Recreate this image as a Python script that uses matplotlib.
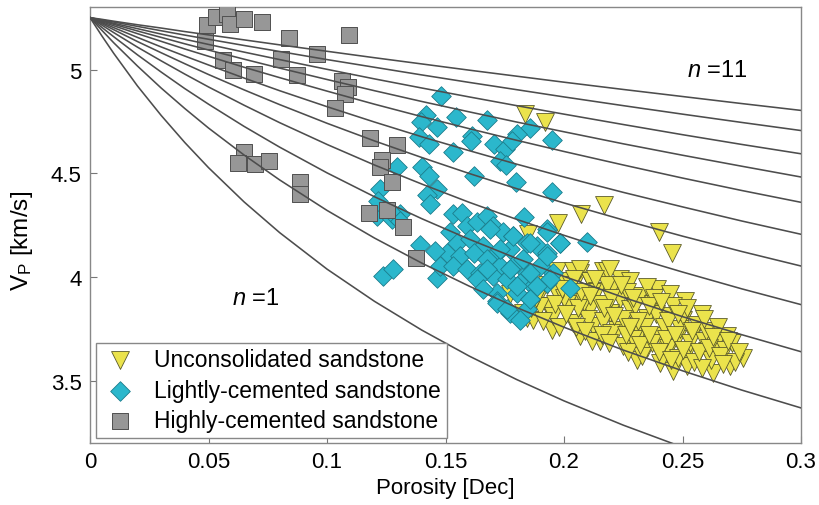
import matplotlib
matplotlib.use("Agg")
import matplotlib.pyplot as plt

plt.rcParams['font.family'] = ['Liberation Sans', 'DejaVu Sans']
plt.rcParams['mathtext.fontset'] = 'custom'
plt.rcParams['mathtext.rm'] = 'Liberation Sans'
plt.rcParams['mathtext.it'] = 'Liberation Sans:italic'

# model curves n = 1 .. 11, Vp read at these porosities
phi_grid = [0, 0.005, 0.01, 0.02, 0.03, 0.04, 0.05, 0.065, 0.08, 0.1, 0.12,
            0.14, 0.16, 0.18, 0.2, 0.225, 0.25, 0.275, 0.3]
vp_n1 = [5.250, 5.162, 5.078, 4.921, 4.779, 4.648, 4.527, 4.362, 4.214, 4.038, 3.883,
         3.744, 3.619, 3.506, 3.403, 3.286, 3.180]
vp_n2 = [5.250, 5.189, 5.129, 5.017, 4.911, 4.812, 4.718, 4.588, 4.468, 4.321, 4.188,
         4.067, 3.956, 3.853, 3.758, 3.648, 3.548, 3.455, 3.369]
vp_n3 = [5.250, 5.203, 5.158, 5.071, 4.988, 4.908, 4.833, 4.726, 4.626, 4.502, 4.387,
         4.281, 4.182, 4.090, 4.003, 3.902, 3.809, 3.722, 3.640]
vp_n4 = [5.250, 5.214, 5.178, 5.108, 5.042, 4.978, 4.916, 4.828, 4.744, 4.639, 4.540,
         4.448, 4.360, 4.278, 4.201, 4.109, 4.024, 3.943, 3.867]
vp_n5 = [5.250, 5.221, 5.192, 5.135, 5.081, 5.028, 4.976, 4.902, 4.831, 4.741, 4.656,
         4.576, 4.499, 4.426, 4.357, 4.275, 4.197, 4.123, 4.053]
vp_n6 = [5.250, 5.226, 5.202, 5.155, 5.109, 5.065, 5.022, 4.959, 4.898, 4.821, 4.747,
         4.676, 4.609, 4.544, 4.482, 4.408, 4.338, 4.270, 4.206]
vp_n7 = [5.250, 5.230, 5.211, 5.173, 5.136, 5.099, 5.064, 5.011, 4.961, 4.896, 4.833,
         4.773, 4.715, 4.659, 4.605, 4.540, 4.477, 4.417, 4.360]
vp_n8 = [5.250, 5.234, 5.218, 5.186, 5.155, 5.124, 5.094, 5.050, 5.007, 4.952, 4.898,
         4.846, 4.796, 4.747, 4.700, 4.642, 4.587, 4.534, 4.482]
vp_n9 = [5.250, 5.237, 5.223, 5.197, 5.171, 5.146, 5.121, 5.084, 5.048, 5.001, 4.955,
         4.911, 4.868, 4.826, 4.785, 4.735, 4.686, 4.639, 4.594]
vp_n10 = [5.250, 5.239, 5.229, 5.208, 5.187, 5.166, 5.146, 5.116, 5.087, 5.048, 5.011,
          4.974, 4.938, 4.903, 4.868, 4.826, 4.785, 4.745, 4.706]
vp_n11 = [5.250, 5.242, 5.233, 5.216, 5.200, 5.183, 5.167, 5.143, 5.119, 5.088, 5.057,
          5.027, 4.997, 4.968, 4.939, 4.904, 4.870, 4.836, 4.803]
curves = [vp_n1, vp_n2, vp_n3, vp_n4, vp_n5, vp_n6, vp_n7, vp_n8, vp_n9, vp_n10, vp_n11]

# highly cemented (squares)
hc_phi = [0.0492, 0.0532, 0.0578, 0.0592, 0.0651, 0.0726, 0.0485, 0.0560, 0.0603,
          0.0693, 0.0841, 0.0806, 0.1094, 0.0956, 0.0875, 0.1062, 0.1090, 0.1076,
          0.1034, 0.1181, 0.0651, 0.0623, 0.0698, 0.0757, 0.0886, 0.0886, 0.1294,
          0.1231, 0.1224, 0.1273, 0.1175, 0.1255, 0.1319, 0.1376]
hc_vp = [5.214, 5.255, 5.266, 5.219, 5.243, 5.227, 5.137, 5.045, 4.997,
         4.977, 5.150, 5.053, 5.167, 5.077, 4.976, 4.943, 4.916, 4.884,
         4.815, 4.670, 4.602, 4.549, 4.545, 4.558, 4.457, 4.400, 4.634,
         4.566, 4.529, 4.460, 4.307, 4.323, 4.239, 4.094]

# lightly cemented (diamonds)
lc_phi = [0.1481, 0.1418, 0.1395, 0.1544, 0.1466, 0.1674, 0.1857, 0.1800, 0.1613,
          0.1606, 0.1386, 0.1432, 0.1530, 0.1706, 0.1751, 0.1779, 0.1948, 0.1730,
          0.1755, 0.1400, 0.1432, 0.1294, 0.1618, 0.1798, 0.1948, 0.1463, 0.1421,
          0.1435, 0.1224, 0.1210, 0.1273, 0.1308, 0.1831, 0.2096, 0.1927, 0.1393,
          0.1238, 0.1280, 0.1463, 0.1533, 0.1568, 0.1519, 0.1589, 0.1632, 0.1674,
          0.1702, 0.1744, 0.1786, 0.1547, 0.1604, 0.1660, 0.1716, 0.1772, 0.1843,
          0.1885, 0.1927, 0.1983, 0.1505, 0.1561, 0.1618, 0.1674, 0.1730, 0.1786,
          0.1843, 0.1899, 0.1955, 0.1477, 0.1533, 0.1589, 0.1646, 0.1702, 0.1758,
          0.1815, 0.1871, 0.1927, 0.2025, 0.1632, 0.1716, 0.1800, 0.1857, 0.1716,
          0.1772, 0.1843, 0.1688, 0.1786, 0.1730, 0.1857, 0.1927, 0.1983, 0.1828,
          0.1927, 0.1674, 0.1772, 0.1857, 0.1941, 0.1716, 0.1758, 0.1814, 0.1857,
          0.1660, 0.1885, 0.1800, 0.1216, 0.1280, 0.1308, 0.1455]
lc_vp = [4.873, 4.782, 4.747, 4.771, 4.723, 4.755, 4.718, 4.690, 4.679,
         4.658, 4.674, 4.642, 4.602, 4.642, 4.618, 4.658, 4.661, 4.561,
         4.540, 4.529, 4.489, 4.529, 4.486, 4.460, 4.411, 4.424, 4.395,
         4.352, 4.424, 4.292, 4.279, 4.303, 4.287, 4.171, 4.231, 4.155,
         4.005, 4.041, 3.997, 4.303, 4.311, 4.215, 4.247, 4.263, 4.295,
         4.247, 4.215, 4.199, 4.166, 4.182, 4.150, 4.118, 4.134, 4.166,
         4.150, 4.118, 4.166, 4.118, 4.102, 4.118, 4.086, 4.053, 4.053,
         4.021, 4.053, 4.021, 4.053, 4.053, 4.037, 4.021, 4.005, 3.989,
         3.973, 3.957, 3.973, 3.949, 3.989, 3.924, 3.924, 3.892, 3.884,
         3.828, 3.844, 4.231, 4.198, 4.134, 4.166, 4.215, 4.166, 4.086,
         4.102, 4.037, 4.037, 4.021, 3.989, 3.876, 3.844, 3.795, 3.892,
         3.940, 3.957, 3.957, 4.368, 4.303, 4.271, 4.126]

# unconsolidated (triangles)
uc_phi = [0.1836, 0.1920, 0.2170, 0.2070, 0.1973, 0.1849, 0.2402, 0.2454,
          0.2068, 0.2166, 0.2236, 0.1997, 0.1842, 0.1969, 0.1899, 0.2039, 0.2109,
          0.2180, 0.2222, 0.1772,
          0.2067, 0.2194, 0.2278, 0.2110, 0.1990, 0.2208, 0.2391, 0.2447, 0.2510,
          0.2581, 0.1969, 0.2053, 0.2138, 0.2236, 0.2321, 0.2377, 0.1927, 0.2012,
          0.2110, 0.2194, 0.2278, 0.2349, 0.2433, 0.2503, 0.1871, 0.1948, 0.2039,
          0.2124, 0.2222, 0.2321, 0.2405, 0.2475, 0.2546, 0.2616, 0.2687, 0.2067,
          0.2152, 0.2250, 0.2349, 0.2433, 0.2518, 0.2602, 0.2658, 0.2756, 0.2461,
          0.2630, 0.2306, 0.2405, 0.2518, 0.2700, 0.1885, 0.1828,
          0.1900, 0.1955, 0.2000, 0.2030, 0.2085, 0.2100, 0.2150, 0.2165, 0.2180,
          0.2200, 0.2250, 0.2265, 0.2290, 0.2300, 0.2340, 0.2350, 0.2370, 0.2390,
          0.2420, 0.2440, 0.2460, 0.2480, 0.2490, 0.2530, 0.2550, 0.2560, 0.2590,
          0.2620, 0.2640, 0.2680, 0.2710, 0.2720, 0.2580, 0.2330, 0.2270, 0.2120,
          0.2050, 0.1980, 0.1860, 0.2120, 0.2200, 0.2060, 0.2380, 0.2430, 0.2500,
          0.2600, 0.2650,
          0.1880, 0.1930, 0.1960, 0.2010, 0.2040, 0.2070, 0.2090, 0.2130, 0.2160,
          0.2170, 0.2210, 0.2240, 0.2260, 0.2290, 0.2310, 0.2320, 0.2360, 0.2360,
          0.2400, 0.2410, 0.2440, 0.2450, 0.2470, 0.2500, 0.2520, 0.2540, 0.2570,
          0.2590, 0.2610, 0.2630, 0.2660, 0.2690, 0.2740, 0.2110, 0.1990, 0.1910,
          0.2190, 0.2280, 0.2480, 0.2670]
uc_vp = [4.787, 4.747, 4.348, 4.303, 4.258, 4.205, 4.215, 4.118,
         4.021, 4.029, 3.989, 3.908, 3.804, 4.029, 3.916, 4.029, 3.981,
         4.029, 3.949, 3.916,
         4.037, 4.037, 3.981, 3.981, 3.981, 3.957, 3.940, 3.916, 3.884,
         3.820, 3.916, 3.916, 3.932, 3.892, 3.908, 3.868, 3.860, 3.868,
         3.844, 3.828, 3.844, 3.803, 3.811, 3.795, 3.795, 3.747, 3.779,
         3.763, 3.747, 3.731, 3.715, 3.699, 3.723, 3.723, 3.715, 3.715,
         3.691, 3.666, 3.658, 3.634, 3.634, 3.642, 3.618, 3.610, 3.545,
         3.537, 3.602, 3.586, 3.570, 3.570, 3.924, 3.828,
         3.860, 3.810, 3.900, 3.960, 3.880, 3.800, 3.870, 3.790, 3.960,
         3.730, 3.800, 3.930, 3.700, 3.860, 3.760, 3.950, 3.680, 3.820,
         3.760, 3.660, 3.860, 3.610, 3.750, 3.680, 3.590, 3.770, 3.690,
         3.600, 3.680, 3.650, 3.680, 3.590, 3.560, 3.620, 3.640, 3.690,
         3.760, 3.760, 3.850, 3.930, 3.900, 3.850, 3.900, 3.700, 3.810,
         3.740, 3.760,
         3.900, 3.960, 3.870, 3.820, 3.990, 3.930, 3.740, 3.990, 3.720,
         3.850, 3.810, 3.960, 3.720, 3.900, 3.790, 3.670, 3.860, 3.720,
         3.640, 3.880, 3.790, 3.600, 3.720, 3.650, 3.850, 3.740, 3.640,
         3.800, 3.660, 3.710, 3.620, 3.690, 3.640, 3.910, 3.940, 3.790,
         3.680, 3.760, 3.820, 3.580]

x_ticks = [0, 0.05, 0.1, 0.15, 0.2, 0.25, 0.3]
x_labels = ['0', '0.05', '0.1', '0.15', '0.2', '0.25', '0.3']
y_ticks = [3.5, 4, 4.5, 5]
y_labels = ['3.5', '4', '4.5', '5']

fig = plt.figure(figsize=(8.2, 5.06), dpi=100)
ax = fig.add_axes([0.1098, 0.1225, 0.8671, 0.8611])

ax.scatter(uc_phi, uc_vp, marker='v', s=165, c='#ebe34c', edgecolors='#5a5a2a',
           linewidths=0.6, zorder=2, label='Unconsolidated sandstone')
ax.scatter(lc_phi, lc_vp, marker='D', s=100, c='#2bb7cc', edgecolors='#1c7d8c',
           linewidths=0.6, zorder=3, label='Lightly-cemented sandstone')
ax.scatter(hc_phi, hc_vp, marker='s', s=125, c='#979797', edgecolors='#505050',
           linewidths=0.7, zorder=4, label='Highly-cemented sandstone')

# curves drawn over the points
for cv in curves:
    ax.plot(phi_grid[:len(cv)], cv, color='#4d4d4d', lw=1.15, zorder=5)

ax.text(0.252, 5.0, r'$n$ =11', fontsize=17, va='center', zorder=6)
ax.text(0.0598, 3.90, r'$n$ =1', fontsize=17, va='center', zorder=6)

ax.set_xlim(0, 0.3)
ax.set_ylim(3.2, 5.3)
ax.set_xticks(x_ticks)
ax.set_xticklabels(x_labels)
ax.set_yticks(y_ticks)
ax.set_yticklabels(y_labels)
ax.tick_params(direction='in', length=5, width=0.8, color='#777777', labelsize=16, pad=6)
for sp in ax.spines.values():
    sp.set_color('#888888')
    sp.set_linewidth(1.0)
ax.set_xlabel('Porosity [Dec]', fontsize=16, labelpad=3)
ax.set_ylabel(r'V$_\mathrm{P}$ [km/s]', fontsize=17.5)
ax.yaxis.set_label_coords(-0.077, 0.465)

leg = ax.legend(loc='lower left', bbox_to_anchor=(0.008, 0.012), borderaxespad=0,
                fontsize=16.5, handlelength=1.6, handletextpad=0.7, borderpad=0.25,
                labelspacing=0.32, fancybox=False, framealpha=1)
leg.get_frame().set_edgecolor('#888888')
leg.get_frame().set_linewidth(1.0)

fig.savefig('out.png', dpi=100)
